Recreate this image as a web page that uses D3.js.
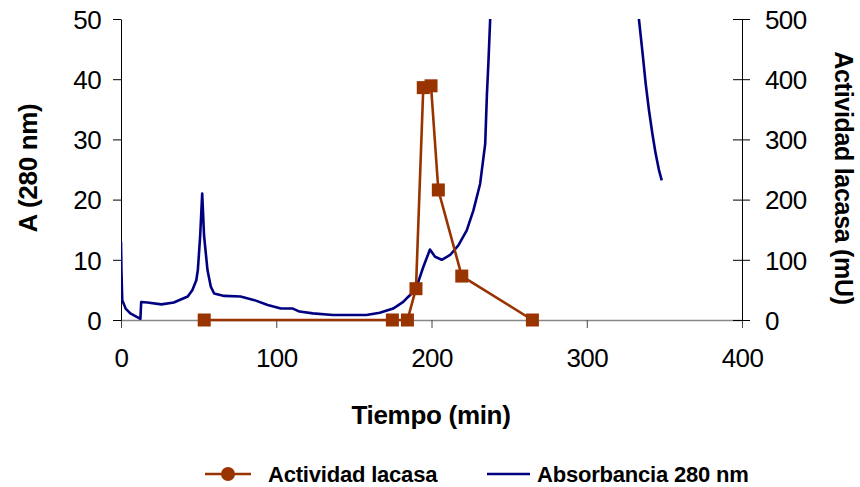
<!DOCTYPE html>
<html>
<head>
<meta charset="utf-8">
<script src="https://cdn.jsdelivr.net/npm/d3@7"></script>
<style>
  body { margin: 0; background: #fff; }
  svg text { font-family: "Liberation Sans", Arial, sans-serif; fill: #000; }
  .tick text { font-size: 26px; letter-spacing: -0.6px; }
  .title { font-size: 26px; font-weight: bold; letter-spacing: -0.3px; }
  .legend-text { font-size: 22px; font-weight: bold; letter-spacing: -0.2px; }
</style>
</head>
<body>
<div id="chart"></div>
<script>
// Absorbancia 280 nm (left axis)
const absTime = [0, 0.3, 0.8, 3, 6, 12.5, 13, 17, 26, 34,
  43, 46, 48.5, 49.5, 51, 52.3, 53.5, 55.7, 57.9, 60,
  66.5, 77, 86, 94.5, 103, 110.7, 115, 123.6, 136.5, 158,
  166.7, 175.3, 181.8, 184, 186.1, 190.4, 194.7, 199, 202.3, 206.6,
  212, 217.3, 222.7, 227, 231.3, 234.6, 235.7, 236.7, 237.8, 240,
  331, 333.6, 335.8, 338, 340.1, 342.3, 344.4, 346.6, 348.3];
const absValue = [13, 8, 3.3, 1.9, 1.1, 0.2, 3.0, 2.9, 2.6, 2.9,
  3.9, 5.0, 6.6, 8.3, 14, 21, 14, 8.3, 5.5, 4.4,
  4.0, 3.9, 3.3, 2.5, 1.9, 1.9, 1.4, 1.1, 0.83, 0.83,
  1.2, 1.9, 3.0, 3.6, 4.1, 5.5, 8.8, 11.7, 10.5, 10.0,
  10.8, 12.4, 14.9, 18.2, 22.6, 29.3, 37.5, 43, 50, 60,
  60, 50, 44.7, 39.2, 34.8, 30.9, 27.6, 24.8, 23.2];

// Actividad lacasa (right axis, mU)
const lacTime = [53.6, 174.8, 184.5, 190, 194.7, 199.7, 204.4, 219.5, 265];
const lacValue = [0, 0, 0, 52, 386, 389, 216, 73, 0];

const xTicks = [0, 100, 200, 300, 400];
const leftTicks = [0, 10, 20, 30, 40, 50];
const rightTicks = [0, 100, 200, 300, 400, 500];

const W = 860, H = 487;
const plot = {left: 121, right: 742, top: 19, bottom: 320};
const blue = "#000080", orange = "#993300";

const svg = d3.select("#chart").append("svg")
    .attr("width", W)
    .attr("height", H);

const x = d3.scaleLinear().domain([0, 400]).range([plot.left, plot.right]);
const yL = d3.scaleLinear().domain([0, 50]).range([plot.bottom, plot.top]);
const yR = d3.scaleLinear().domain([0, 500]).range([plot.bottom, plot.top]);

svg.append("clipPath").attr("id", "clip")
  .append("rect")
    .attr("x", plot.left)
    .attr("y", plot.top)
    .attr("width", plot.right - plot.left)
    .attr("height", plot.bottom - plot.top);

// Axes
const gx = svg.append("g")
    .attr("transform", "translate(0," + plot.bottom + ")")
    .call(d3.axisBottom(x).tickValues(xTicks).tickSize(8).tickPadding(21).tickSizeOuter(0));
gx.select(".domain").attr("stroke", "#888").attr("stroke-width", 1.5);
gx.selectAll(".tick line").attr("stroke", "#444");

const gl = svg.append("g")
    .attr("transform", "translate(" + plot.left + ",0)")
    .call(d3.axisLeft(yL).tickValues(leftTicks).tickSize(8).tickPadding(12).tickSizeOuter(0));
gl.selectAll(".tick text").attr("dy", "0.36em");

const gr = svg.append("g")
    .attr("transform", "translate(" + plot.right + ",0)")
    .call(d3.axisRight(yR).tickValues(rightTicks).tickSize(8).tickPadding(15).tickSizeOuter(0));
gr.selectAll(".tick").append("line").attr("x2", -9).attr("stroke", "currentColor");
gr.selectAll(".tick text").attr("dy", "0.36em");

// Absorbance line
const absData = absTime.map((t, i) => ({t: t, v: absValue[i]}));
svg.append("path")
    .datum(absData)
    .attr("clip-path", "url(#clip)")
    .attr("fill", "none")
    .attr("stroke", blue)
    .attr("stroke-width", 2.6)
    .attr("stroke-linejoin", "round")
    .attr("d", d3.line().x(d => x(d.t)).y(d => yL(d.v)));

// Laccase activity line + squares
const lacData = lacTime.map((t, i) => ({t: t, v: lacValue[i]}));
svg.append("path")
    .datum(lacData)
    .attr("fill", "none")
    .attr("stroke", orange)
    .attr("stroke-width", 2.6)
    .attr("d", d3.line().x(d => x(d.t)).y(d => yR(d.v)));

svg.selectAll(".sq")
    .data(lacData)
  .enter().append("rect")
    .attr("class", "sq")
    .attr("x", d => x(d.t) - 6.5)
    .attr("y", d => yR(d.v) - 6.5)
    .attr("width", 13)
    .attr("height", 13)
    .attr("fill", orange);

// Axis titles
svg.append("text")
    .attr("class", "title")
    .attr("x", 431)
    .attr("y", 424)
    .attr("text-anchor", "middle")
    .text("Tiempo (min)");

svg.append("text")
    .attr("class", "title")
    .attr("transform", "translate(37,168) rotate(-90)")
    .attr("text-anchor", "middle")
    .text("A (280 nm)");

svg.append("text")
    .attr("class", "title")
    .style("font-size", "25px")
    .attr("transform", "translate(835,178) rotate(90)")
    .attr("text-anchor", "middle")
    .text("Actividad lacasa (mU)");

// Legend
const legY = 474;
svg.append("line")
    .attr("x1", 205).attr("x2", 251)
    .attr("y1", legY).attr("y2", legY)
    .attr("stroke", orange).attr("stroke-width", 2.6);
svg.append("circle")
    .attr("cx", 228).attr("cy", legY).attr("r", 7)
    .attr("fill", orange);
svg.append("text")
    .attr("class", "legend-text")
    .attr("x", 268).attr("y", legY + 8)
    .text("Actividad lacasa");

svg.append("line")
    .attr("x1", 487).attr("x2", 530)
    .attr("y1", legY).attr("y2", legY)
    .attr("stroke", blue).attr("stroke-width", 2.6);
svg.append("text")
    .attr("class", "legend-text")
    .attr("x", 537).attr("y", legY + 8)
    .text("Absorbancia 280 nm");
</script>
</body>
</html>
